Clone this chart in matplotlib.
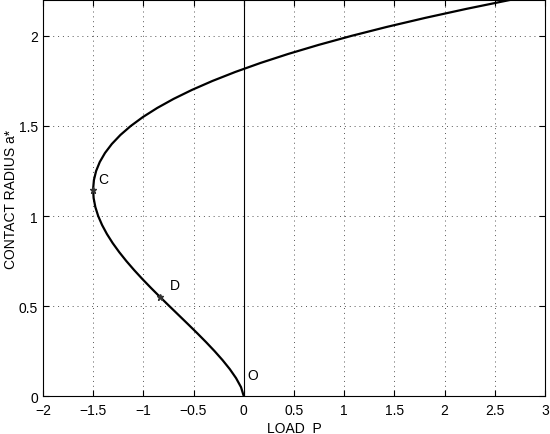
import numpy as np
import matplotlib
matplotlib.use('Agg')
import matplotlib.pyplot as plt

plt.rcParams['font.family'] = ['Liberation Sans', 'DejaVu Sans']

# contact radius a* and load P
radius = [0, 0.05, 0.1, 0.15, 0.2, 0.25, 0.3, 0.35, 0.4, 0.45, 0.5, 0.55, 0.6,
          0.65, 0.7, 0.75, 0.8, 0.85, 0.9, 0.95, 1.0, 1.05, 1.1, 1.15, 1.2,
          1.25, 1.3, 1.35, 1.4, 1.45, 1.5, 1.55, 1.6, 1.65, 1.7, 1.75, 1.8,
          1.85, 1.9, 1.95, 2.0, 2.05, 2.1, 2.15, 2.2]
load = [0, -0.0273, -0.0765, -0.1389, -0.2111, -0.2906, -0.3755, -0.4643,
        -0.5557, -0.6483, -0.7410, -0.8327, -0.9224, -1.0091, -1.0916,
        -1.1691, -1.2407, -1.3055, -1.3624, -1.4107, -1.4495, -1.4779,
        -1.4950, -1.4999, -1.4919, -1.4702, -1.4337, -1.3818, -1.3136,
        -1.2283, -1.1250, -1.0030, -0.8614, -0.6996, -0.5164, -0.3113,
        -0.0834, 0.1680, 0.4438, 0.7449, 1.0718, 1.4254, 1.8068, 2.2164,
        2.6551]

pts_P = [-1.5, -0.833]
pts_a = [1.145, 0.55]
labels = ['C', 'D', 'O']
label_P = [-1.45, -0.74, 0.04]
label_a = [1.185, 0.595, 0.095]

fig = plt.figure(figsize=(5.5, 4.35), dpi=100)
ax = fig.add_axes([0.078, 0.087, 0.913, 0.911])
ax.plot(load, radius, 'k-', lw=1.6)
ax.axvline(0, color='k', lw=0.8)
ax.plot(pts_P, pts_a, '*', ms=5, color='#333333')
for s, x, y in zip(labels, label_P, label_a):
    ax.text(x, y, s, fontsize=10)

ax.set_xlim(-2, 3)
ax.set_ylim(0, 2.2)
ax.set_xticks(np.arange(-2, 3.01, 0.5))
ax.set_yticks(np.arange(0, 2.01, 0.5))
ax.set_xticklabels(['\u22122', '\u22121.5', '\u22121', '\u22120.5', '0', '0.5',
                    '1', '1.5', '2', '2.5', '3'])
ax.set_yticklabels(['0', '0.5', '1', '1.5', '2'])
ax.tick_params(direction='in', top=True, right=True, labelsize=10, length=4)
ax.tick_params(axis='x', pad=5)
ax.grid(True, color='#555555', linestyle=(0, (1, 4)), lw=0.7)
ax.set_xlabel('LOAD  P', fontsize=10)
ax.set_ylabel('CONTACT RADIUS a*', fontsize=10)
ax.yaxis.set_label_coords(-0.05, 0.5)
ax.xaxis.set_label_coords(0.5, -0.062)

fig.savefig('out.png', dpi=100)
